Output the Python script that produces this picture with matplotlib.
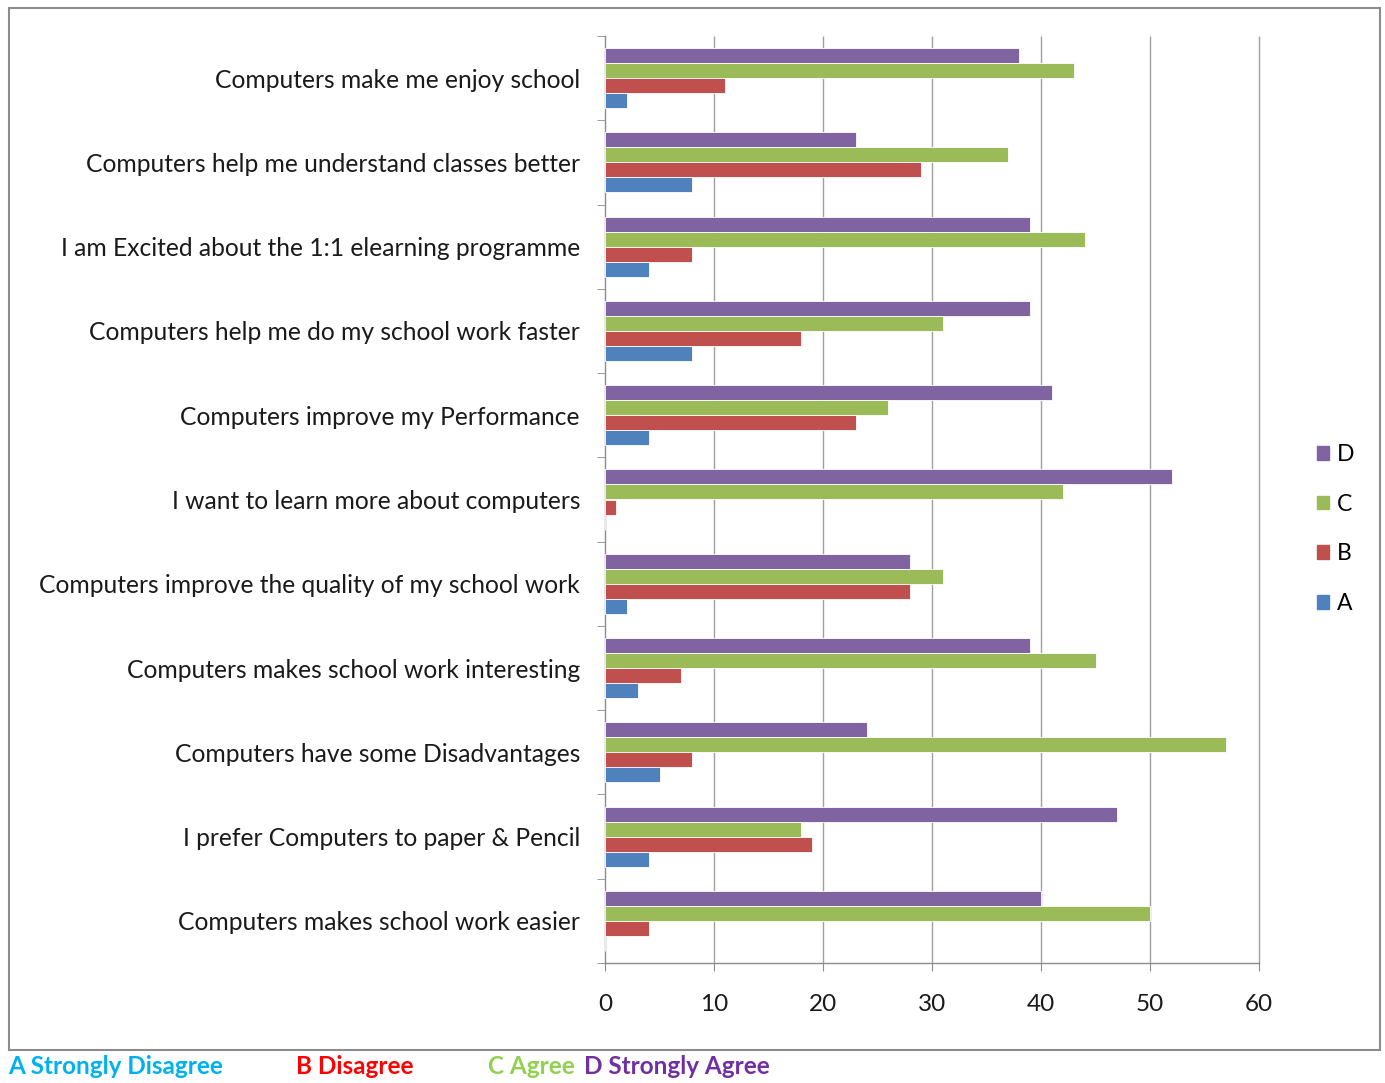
import numpy as np
import matplotlib
matplotlib.use("Agg")
import matplotlib.pyplot as plt
from matplotlib.patches import Patch, Rectangle

plt.rcParams["font.family"] = ["Lato", "DejaVu Sans"]

statements = [
    "Computers make me enjoy school",
    "Computers help me understand classes better",
    "I am Excited about the 1:1 elearning programme",
    "Computers help me do my school work faster",
    "Computers improve my Performance",
    "I want to learn more about computers",
    "Computers improve the quality of my school work",
    "Computers makes school work interesting",
    "Computers have some Disadvantages",
    "I prefer Computers to paper & Pencil",
    "Computers makes school work easier",
]
resp_d = [38, 23, 39, 39, 41, 52, 28, 39, 24, 47, 40]
resp_c = [43, 37, 44, 31, 26, 42, 31, 45, 57, 18, 50]
resp_b = [11, 29, 8, 18, 23, 1, 28, 7, 8, 19, 4]
resp_a = [2, 8, 4, 8, 4, 0, 2, 3, 5, 4, 0]
series_names = ["D", "C", "B", "A"]
colors = ["#8064A2", "#9BBB59", "#C0504D", "#4F81BD"]
xticks = [0, 10, 20, 30, 40, 50, 60]

fig = plt.figure(figsize=(13.85, 10.83), dpi=100)
# outer frame
fig.add_artist(Rectangle((9 / 1385, 1 - 1050 / 1083), (1380 - 9) / 1385, (1050 - 8) / 1083,
                         transform=fig.transFigure, fill=False, ec="#8C8C8C", lw=1.5))

ax = fig.add_axes([605 / 1385, 120 / 1083, (1259 - 605) / 1385, (1047 - 120) / 1083])
y = np.arange(len(statements))
h = 0.178
for k, (vals, c) in enumerate(zip([resp_d, resp_c, resp_b, resp_a], colors)):
    ax.barh(y + (k - 1.5) * h, vals, height=h, color=c, edgecolor="white", lw=0.6, zorder=3)

ax.set_xlim(0, 60)
ax.set_ylim(len(statements) - 0.5, -0.5)
ax.vlines(xticks[1:], len(statements) - 0.5, -0.5, color="#A0A0A0", lw=1.0, zorder=0, clip_on=False)
ax.set_xticks(xticks)
ax.set_yticks(y)
ax.set_yticklabels(statements, fontsize=17.7, color="#1A1A1A")
ax.set_yticks(np.arange(-0.5, len(statements), 1.0), minor=True)
ax.tick_params(axis="y", which="major", length=0, pad=18)
ax.tick_params(axis="y", which="minor", length=6, color="#8C8C8C")
ax.tick_params(axis="x", length=6, color="#8C8C8C", labelsize=17.5, labelcolor="#1A1A1A", pad=16)
for s in ["top", "right"]:
    ax.spines[s].set_visible(False)
for s in ["left", "bottom"]:
    ax.spines[s].set_color("#8C8C8C")
    ax.spines[s].set_linewidth(1.0)

handles = [Patch(color=c) for c in colors]
fig.legend(handles, series_names, loc="center left", bbox_to_anchor=(1296 / 1385, 1 - 529 / 1083),
           frameon=False, fontsize=16.5, handlelength=0.55, handleheight=0.55, handletextpad=0.35,
           labelspacing=1.25)

# response key under the frame
key = [("A Strongly Disagree", "#00B0F0", 8), ("B Disagree", "#FF0000", 296),
       ("C Agree", "#92D050", 488), ("D Strongly Agree", "#7030A0", 584)]
for txt, c, px in key:
    fig.text(px / 1385, 1 - 1067 / 1083, txt, color=c, fontsize=17.5, fontweight="bold",
             ha="left", va="center")

fig.savefig("out.png", dpi=100, facecolor="white")
